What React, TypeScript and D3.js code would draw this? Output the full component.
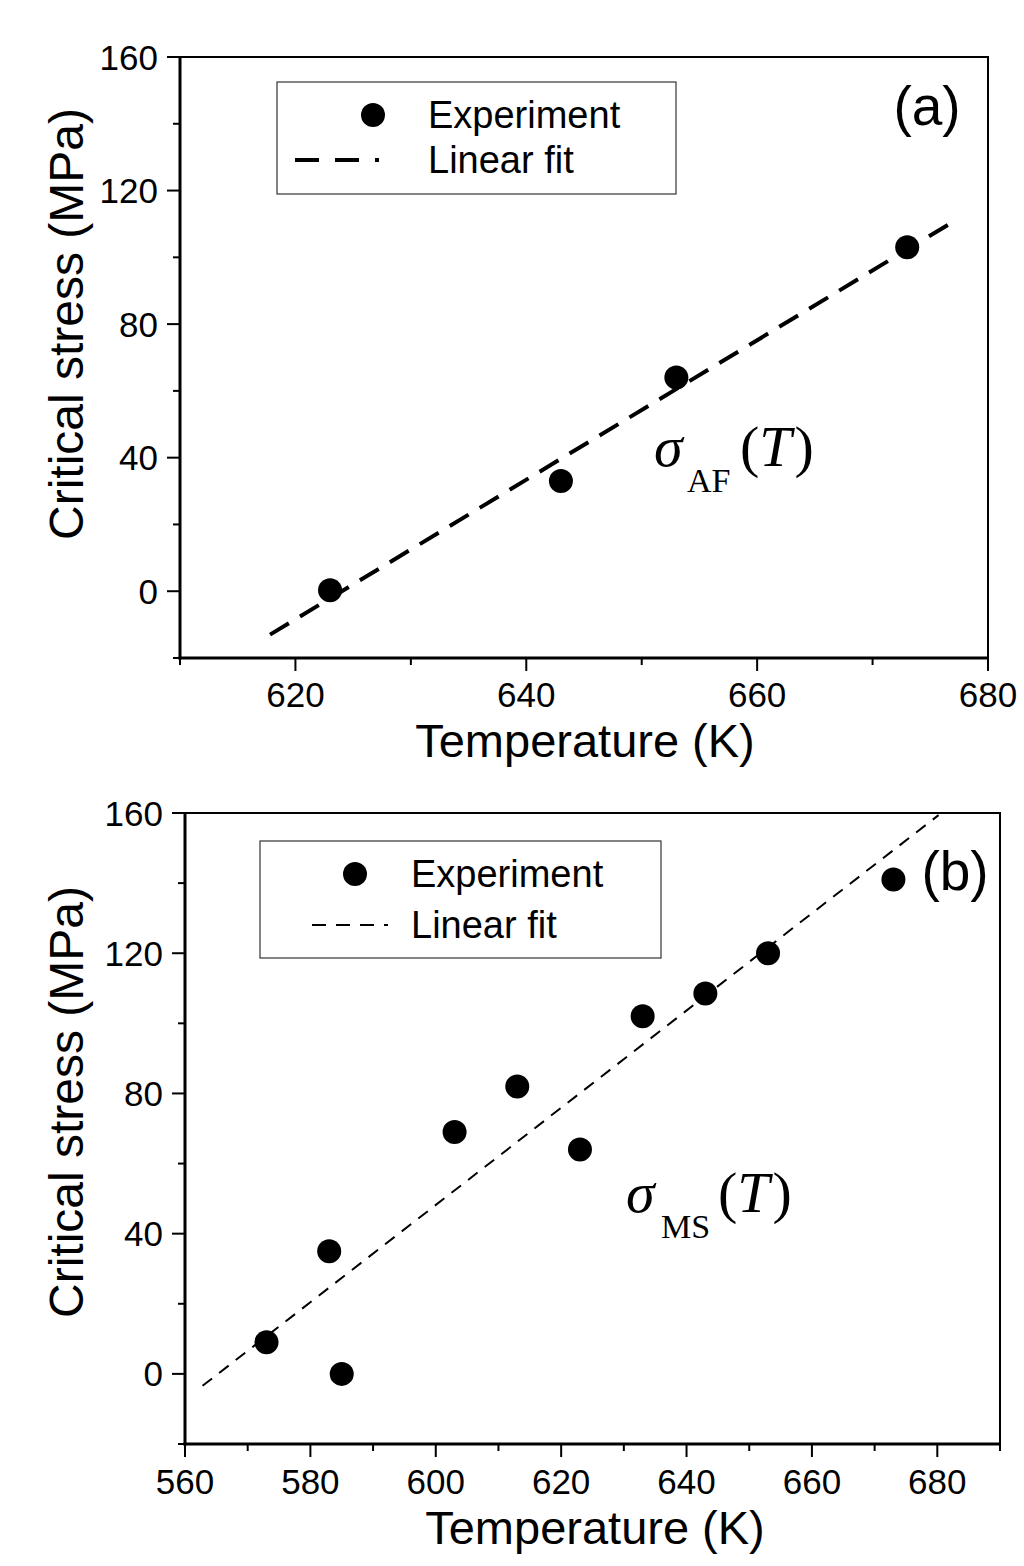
import { useEffect, useRef } from "react";
import * as d3 from "d3";

// panel (a): antiferro stress vs temperature
const tempA = [623, 643, 653, 673];
const stressA = [0.3, 33, 64, 103];
const fitTempA = [617.8, 676.9];
const fitStressA = [-13, 110.5];
const xTicksA = [620, 640, 660, 680];
const xDomainA: [number, number] = [610, 680];

// panel (b): martensite stress vs temperature
const tempB = [573, 583, 585, 603, 613, 623, 633, 643, 653, 673];
const stressB = [9, 35, 0, 69, 82, 64, 102, 108.5, 120, 141];
const fitTempB = [562.8, 680.2];
const fitStressB = [-3.4, 159.4];
const xTicksB = [560, 580, 600, 620, 640, 660, 680];
const xDomainB: [number, number] = [560, 690];

const yTicks = [0, 40, 80, 120, 160];
const yDomain: [number, number] = [-20, 160];

const SANS = "'Liberation Sans', Arial, sans-serif";
const SERIF = "'Liberation Serif', 'Times New Roman', serif";

interface PanelCfg {
  left: number; right: number; top: number; bottom: number;
  temps: number[]; stress: number[];
  fitT: number[]; fitS: number[];
  xTicks: number[]; xDomain: [number, number];
  fitWidth: number; fitDash: string;
  label: string; labelX: number; labelY: number;
  sub: string; sigX: number; sigY: number; subX: number; parenX: number;
  legend: { x: number; y: number; w: number; h: number; dotX: number; dotY: number; textX: number; lineX0: number; lineX1: number; lineY: number; dash: string; lw: number };
  xLabY: number; xTitleX: number; xTitleY: number; yTitleX: number; yTitleY: number;
}

function drawPanel(svg: d3.Selection<SVGSVGElement, unknown, null, undefined>, c: PanelCfg) {
  const x = d3.scaleLinear().domain(c.xDomain).range([c.left, c.right]);
  const y = d3.scaleLinear().domain(yDomain).range([c.bottom, c.top]);
  const g = svg.append("g");

  // frame: thin top/right, heavier axes
  g.append("rect").attr("x", c.left).attr("y", c.top)
    .attr("width", c.right - c.left).attr("height", c.bottom - c.top)
    .attr("fill", "none").attr("stroke", "#000").attr("stroke-width", 2);
  g.append("line").attr("x1", c.left).attr("x2", c.left).attr("y1", c.top - 1).attr("y2", c.bottom + 1.5)
    .attr("stroke", "#000").attr("stroke-width", 3);
  g.append("line").attr("x1", c.left - 1.5).attr("x2", c.right + 1).attr("y1", c.bottom).attr("y2", c.bottom)
    .attr("stroke", "#000").attr("stroke-width", 3);

  // y ticks
  const yMinor = d3.range(yDomain[0], yDomain[1] + 1, 20).filter((v) => !yTicks.includes(v));
  g.selectAll(".ymaj").data(yTicks).enter().append("line")
    .attr("x1", c.left - 13).attr("x2", c.left).attr("y1", (d) => y(d)).attr("y2", (d) => y(d))
    .attr("stroke", "#000").attr("stroke-width", 2);
  g.selectAll(".ymin").data(yMinor).enter().append("line")
    .attr("x1", c.left - 7).attr("x2", c.left).attr("y1", (d) => y(d)).attr("y2", (d) => y(d))
    .attr("stroke", "#000").attr("stroke-width", 2);
  g.selectAll(".ylab").data(yTicks).enter().append("text")
    .attr("x", c.left - 22).attr("y", (d) => y(d)).attr("dy", "0.36em")
    .attr("text-anchor", "end").attr("font-family", SANS).attr("font-size", 35)
    .text((d) => d);

  // x ticks
  const xMinor = d3.range(c.xDomain[0], c.xDomain[1] + 1, 10).filter((v) => !c.xTicks.includes(v));
  g.selectAll(".xmaj").data(c.xTicks).enter().append("line")
    .attr("x1", (d) => x(d)).attr("x2", (d) => x(d)).attr("y1", c.bottom).attr("y2", c.bottom + 13)
    .attr("stroke", "#000").attr("stroke-width", 2);
  g.selectAll(".xmin").data(xMinor).enter().append("line")
    .attr("x1", (d) => x(d)).attr("x2", (d) => x(d)).attr("y1", c.bottom).attr("y2", c.bottom + 7)
    .attr("stroke", "#000").attr("stroke-width", 2);
  g.selectAll(".xlab").data(c.xTicks).enter().append("text")
    .attr("x", (d) => x(d)).attr("y", c.xLabY)
    .attr("text-anchor", "middle").attr("font-family", SANS).attr("font-size", 35)
    .text((d) => d);

  // fit line
  const fitPts = c.fitT.map((t, i) => [t, c.fitS[i]] as [number, number]);
  g.append("path")
    .attr("d", d3.line<[number, number]>().x((d) => x(d[0])).y((d) => y(d[1]))(fitPts) ?? "")
    .attr("fill", "none").attr("stroke", "#000").attr("stroke-width", c.fitWidth)
    .attr("stroke-dasharray", c.fitDash);

  // points
  g.selectAll(".pt").data(c.temps.map((t, i) => [t, c.stress[i]])).enter().append("circle")
    .attr("cx", (d) => x(d[0])).attr("cy", (d) => y(d[1])).attr("r", 12).attr("fill", "#000");

  // legend
  const L = c.legend;
  g.append("rect").attr("x", L.x).attr("y", L.y).attr("width", L.w).attr("height", L.h)
    .attr("fill", "#fff").attr("stroke", "#333").attr("stroke-width", 1.2);
  g.append("circle").attr("cx", L.dotX).attr("cy", L.dotY).attr("r", 12).attr("fill", "#000");
  g.append("text").attr("x", L.textX).attr("y", L.dotY + 13)
    .attr("font-family", SANS).attr("font-size", 38).text("Experiment");
  g.append("line").attr("x1", L.lineX0).attr("x2", L.lineX1).attr("y1", L.lineY).attr("y2", L.lineY)
    .attr("stroke", "#000").attr("stroke-width", L.lw).attr("stroke-dasharray", L.dash);
  g.append("text").attr("x", L.textX).attr("y", L.lineY + 13)
    .attr("font-family", SANS).attr("font-size", 38).text("Linear fit");

  // panel label
  g.append("text").attr("x", c.labelX).attr("y", c.labelY).attr("text-anchor", "middle")
    .attr("font-family", SANS).attr("font-size", 55).text(c.label);

  // sigma annotation
  const s = g.append("text").attr("font-family", SERIF).attr("font-size", 58);
  s.append("tspan").attr("x", c.sigX).attr("y", c.sigY).attr("font-style", "italic").text("σ");
  s.append("tspan").attr("x", c.subX).attr("y", c.sigY + 26).attr("font-size", 34).text(c.sub);
  s.append("tspan").attr("x", c.parenX).attr("y", c.sigY).text("(");
  s.append("tspan").attr("font-style", "italic").text("T");
  s.append("tspan").attr("dx", 3).text(")");

  // axis titles
  g.append("text").attr("x", c.xTitleX).attr("y", c.xTitleY).attr("text-anchor", "middle")
    .attr("font-family", SANS).attr("font-size", 47).text("Temperature (K)");
  g.append("text").attr("transform", `translate(${c.yTitleX},${c.yTitleY}) rotate(-90)`)
    .attr("text-anchor", "middle").attr("font-family", SANS).attr("font-size", 48)
    .text("Critical stress (MPa)");
}

export default function App() {
  const svgRef = useRef<SVGSVGElement>(null);

  useEffect(() => {
    if (!svgRef.current) return;
    const svg = d3.select(svgRef.current);
    svg.selectAll("*").remove();

    drawPanel(svg, {
      left: 180, right: 988, top: 57, bottom: 658,
      temps: tempA, stress: stressA, fitT: fitTempA, fitS: fitStressA,
      xTicks: xTicksA, xDomain: xDomainA,
      fitWidth: 4, fitDash: "22,13",
      label: "(a)", labelX: 927, labelY: 125,
      sub: "AF", sigX: 654, sigY: 466, subX: 687, parenX: 740,
      legend: { x: 277, y: 82, w: 399, h: 112, dotX: 373, dotY: 115, textX: 428, lineX0: 295, lineX1: 415, lineY: 160, dash: "24,16,24,16,4,100", lw: 4 },
      xLabY: 707, xTitleX: 585, xTitleY: 757, yTitleX: 83, yTitleY: 324,
    });

    drawPanel(svg, {
      left: 185, right: 1000, top: 813, bottom: 1444,
      temps: tempB, stress: stressB, fitT: fitTempB, fitS: fitStressB,
      xTicks: xTicksB, xDomain: xDomainB,
      fitWidth: 2, fitDash: "12,9",
      label: "(b)", labelX: 955, labelY: 890,
      sub: "MS", sigX: 626, sigY: 1212, subX: 661, parenX: 718,
      legend: { x: 260, y: 841, w: 401, h: 117, dotX: 355, dotY: 874, textX: 411, lineX0: 312, lineX1: 402, lineY: 925, dash: "14,10,14,10,14,10,4,100", lw: 2 },
      xLabY: 1494, xTitleX: 595, xTitleY: 1544, yTitleX: 83, yTitleY: 1102,
    });
  }, []);

  return (
    <svg ref={svgRef} width={1024} height={1566}
      style={{ position: "absolute", left: 0, top: 0, background: "#fff" }} />
  );
}
